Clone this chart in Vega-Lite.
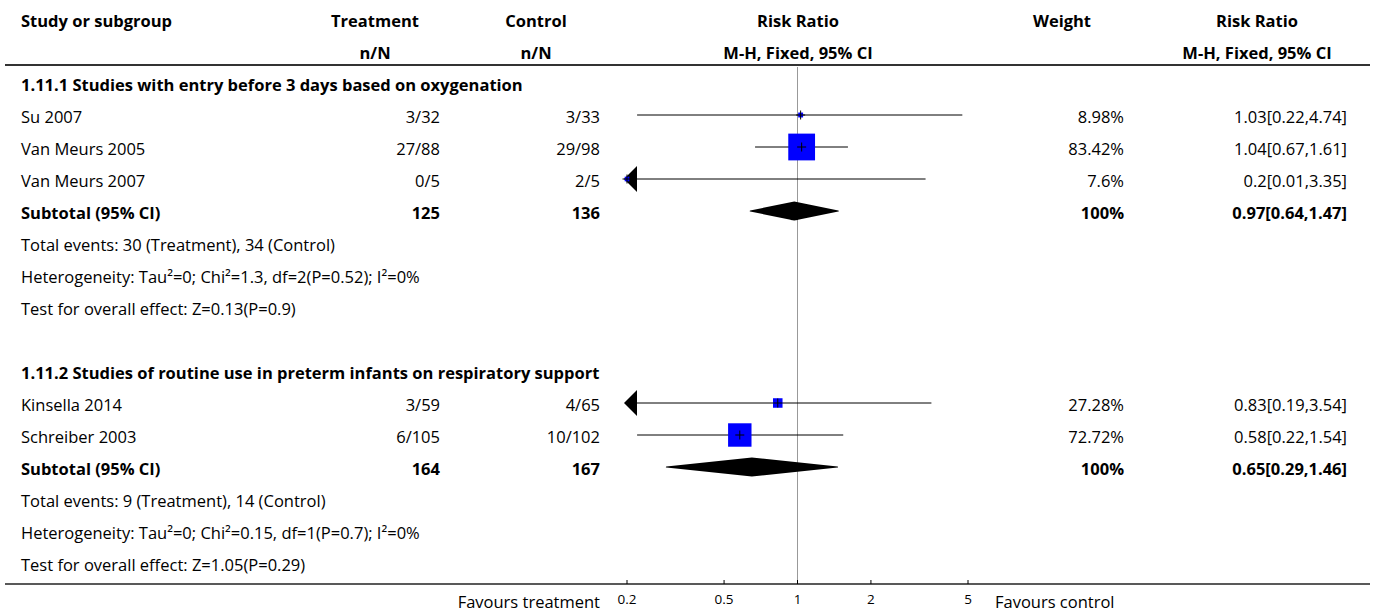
{
  "$schema": "https://vega.github.io/schema/vega-lite/v6.json",
  "width": 1375,
  "height": 613,
  "padding": 0,
  "autosize": "none",
  "background": "white",
  "config": {
    "view": {"stroke": null},
    "font": "Open Sans",
    "text": {"font": "Open Sans", "fontSize": 16.5, "color": "#000"}
  },
  "datasets": {
    "headers": [
      {"row": 0, "column": "study", "text": "Study or subgroup"},
      {"row": 0, "column": "treatment", "text": "Treatment"},
      {"row": 1, "column": "treatment", "text": "n/N"},
      {"row": 0, "column": "control", "text": "Control"},
      {"row": 1, "column": "control", "text": "n/N"},
      {"row": 0, "column": "plot", "text": "Risk Ratio"},
      {"row": 1, "column": "plot", "text": "M-H, Fixed, 95% CI"},
      {"row": 0, "column": "weight", "text": "Weight"},
      {"row": 0, "column": "result", "text": "Risk Ratio"},
      {"row": 1, "column": "result", "text": "M-H, Fixed, 95% CI"}
    ],
    "ticks": [
      {"value": 0.2, "label": "0.2"},
      {"value": 0.5, "label": "0.5"},
      {"value": 1, "label": "1"},
      {"value": 2, "label": "2"},
      {"value": 5, "label": "5"}
    ],
    "table": [
      {"row": 2, "kind": "group", "label": "1.11.1 Studies with entry before 3 days based on oxygenation"},
      {"row": 3, "kind": "study", "label": "Su 2007", "treatment": "3/32", "control": "3/33", "weight": 8.98, "weight_label": "8.98%", "rr": 1.03, "lo": 0.22, "hi": 4.74, "rr_label": "1.03[0.22,4.74]"},
      {"row": 4, "kind": "study", "label": "Van Meurs 2005", "treatment": "27/88", "control": "29/98", "weight": 83.42, "weight_label": "83.42%", "rr": 1.04, "lo": 0.67, "hi": 1.61, "rr_label": "1.04[0.67,1.61]"},
      {"row": 5, "kind": "study", "label": "Van Meurs 2007", "treatment": "0/5", "control": "2/5", "weight": 7.6, "weight_label": "7.6%", "rr": 0.2, "lo": 0.01, "hi": 3.35, "rr_label": "0.2[0.01,3.35]"},
      {"row": 6, "kind": "subtotal", "label": "Subtotal (95% CI)", "treatment": "125", "control": "136", "weight": 100, "weight_label": "100%", "rr": 0.97, "lo": 0.64, "hi": 1.47, "rr_label": "0.97[0.64,1.47]"},
      {"row": 7, "kind": "note", "label": "Total events: 30 (Treatment), 34 (Control)"},
      {"row": 8, "kind": "note", "label": "Heterogeneity: Tau²=0; Chi²=1.3, df=2(P=0.52); I²=0%"},
      {"row": 9, "kind": "note", "label": "Test for overall effect: Z=0.13(P=0.9)"},
      {"row": 11, "kind": "group", "label": "1.11.2 Studies of routine use in preterm infants on respiratory support"},
      {"row": 12, "kind": "study", "label": "Kinsella 2014", "treatment": "3/59", "control": "4/65", "weight": 27.28, "weight_label": "27.28%", "rr": 0.83, "lo": 0.19, "hi": 3.54, "rr_label": "0.83[0.19,3.54]"},
      {"row": 13, "kind": "study", "label": "Schreiber 2003", "treatment": "6/105", "control": "10/102", "weight": 72.72, "weight_label": "72.72%", "rr": 0.58, "lo": 0.22, "hi": 1.54, "rr_label": "0.58[0.22,1.54]"},
      {"row": 14, "kind": "subtotal", "label": "Subtotal (95% CI)", "treatment": "164", "control": "167", "weight": 100, "weight_label": "100%", "rr": 0.65, "lo": 0.29, "hi": 1.46, "rr_label": "0.65[0.29,1.46]"},
      {"row": 15, "kind": "note", "label": "Total events: 9 (Treatment), 14 (Control)"},
      {"row": 16, "kind": "note", "label": "Heterogeneity: Tau²=0; Chi²=0.15, df=1(P=0.7); I²=0%"},
      {"row": 17, "kind": "note", "label": "Test for overall effect: Z=1.05(P=0.29)"}
    ]
  },
  "layer": [
    {
      "layer": [
        {
          "data": {"values": [{}]},
          "mark": {"type": "rule", "stroke": "#333", "strokeWidth": 2},
          "encoding": {
            "x": {"datum": 5, "type": "quantitative", "scale": {"domain": [0, 1375], "range": [0, 1375], "nice": false, "zero": false}, "axis": null},
            "x2": {"datum": 1370},
            "y": {"datum": 1.4375, "type": "quantitative", "scale": {"domain": [-0.59375, 18.5625], "range": [0, 613], "nice": false, "zero": false}, "axis": null}
          }
        },
        {
          "data": {"values": [{}]},
          "mark": {"type": "rule", "stroke": "#222", "strokeWidth": 1.5},
          "encoding": {
            "x": {"datum": 5, "type": "quantitative", "axis": null},
            "x2": {"datum": 1370},
            "y": {"datum": 17.65625, "type": "quantitative", "axis": null}
          }
        },
        {
          "data": {"name": "headers"},
          "transform": [{"filter": "datum.column === 'study'"}],
          "mark": {"type": "text", "align": "left", "baseline": "middle", "dy": 3, "fontWeight": "bold"},
          "encoding": {
            "x": {"datum": 21, "type": "quantitative", "axis": null},
            "y": {"field": "row", "type": "quantitative", "axis": null},
            "text": {"field": "text", "type": "nominal"}
          }
        },
        {
          "data": {"name": "headers"},
          "transform": [{"filter": "datum.column === 'treatment'"}],
          "mark": {"type": "text", "align": "center", "baseline": "middle", "dy": 3, "fontWeight": "bold"},
          "encoding": {
            "x": {"datum": 375, "type": "quantitative", "axis": null},
            "y": {"field": "row", "type": "quantitative", "axis": null},
            "text": {"field": "text", "type": "nominal"}
          }
        },
        {
          "data": {"name": "headers"},
          "transform": [{"filter": "datum.column === 'control'"}],
          "mark": {"type": "text", "align": "center", "baseline": "middle", "dy": 3, "fontWeight": "bold"},
          "encoding": {
            "x": {"datum": 536, "type": "quantitative", "axis": null},
            "y": {"field": "row", "type": "quantitative", "axis": null},
            "text": {"field": "text", "type": "nominal"}
          }
        },
        {
          "data": {"name": "headers"},
          "transform": [{"filter": "datum.column === 'plot'"}],
          "mark": {"type": "text", "align": "center", "baseline": "middle", "dy": 3, "fontWeight": "bold"},
          "encoding": {
            "x": {"datum": 798, "type": "quantitative", "axis": null},
            "y": {"field": "row", "type": "quantitative", "axis": null},
            "text": {"field": "text", "type": "nominal"}
          }
        },
        {
          "data": {"name": "headers"},
          "transform": [{"filter": "datum.column === 'weight'"}],
          "mark": {"type": "text", "align": "center", "baseline": "middle", "dy": 3, "fontWeight": "bold"},
          "encoding": {
            "x": {"datum": 1062, "type": "quantitative", "axis": null},
            "y": {"field": "row", "type": "quantitative", "axis": null},
            "text": {"field": "text", "type": "nominal"}
          }
        },
        {
          "data": {"name": "headers"},
          "transform": [{"filter": "datum.column === 'result'"}],
          "mark": {"type": "text", "align": "center", "baseline": "middle", "dy": 3, "fontWeight": "bold"},
          "encoding": {
            "x": {"datum": 1257, "type": "quantitative", "axis": null},
            "y": {"field": "row", "type": "quantitative", "axis": null},
            "text": {"field": "text", "type": "nominal"}
          }
        },
        {
          "data": {"name": "table"},
          "transform": [{"filter": "datum.kind === 'study' || datum.kind === 'note'"}],
          "mark": {"type": "text", "align": "left", "baseline": "middle", "dy": 3},
          "encoding": {
            "x": {"datum": 21, "type": "quantitative", "axis": null},
            "y": {"field": "row", "type": "quantitative", "axis": null},
            "text": {"field": "label", "type": "nominal"}
          }
        },
        {
          "data": {"name": "table"},
          "transform": [{"filter": "datum.kind === 'group' || datum.kind === 'subtotal'"}],
          "mark": {"type": "text", "align": "left", "baseline": "middle", "dy": 3, "fontWeight": "bold"},
          "encoding": {
            "x": {"datum": 21, "type": "quantitative", "axis": null},
            "y": {"field": "row", "type": "quantitative", "axis": null},
            "text": {"field": "label", "type": "nominal"}
          }
        },
        {
          "data": {"name": "table"},
          "transform": [{"filter": "datum.kind === 'study'"}],
          "mark": {"type": "text", "align": "right", "baseline": "middle", "dy": 3},
          "encoding": {
            "x": {"datum": 440, "type": "quantitative", "axis": null},
            "y": {"field": "row", "type": "quantitative", "axis": null},
            "text": {"field": "treatment", "type": "nominal"}
          }
        },
        {
          "data": {"name": "table"},
          "transform": [{"filter": "datum.kind === 'subtotal'"}],
          "mark": {"type": "text", "align": "right", "baseline": "middle", "dy": 3, "fontWeight": "bold"},
          "encoding": {
            "x": {"datum": 440, "type": "quantitative", "axis": null},
            "y": {"field": "row", "type": "quantitative", "axis": null},
            "text": {"field": "treatment", "type": "nominal"}
          }
        },
        {
          "data": {"name": "table"},
          "transform": [{"filter": "datum.kind === 'study'"}],
          "mark": {"type": "text", "align": "right", "baseline": "middle", "dy": 3},
          "encoding": {
            "x": {"datum": 600, "type": "quantitative", "axis": null},
            "y": {"field": "row", "type": "quantitative", "axis": null},
            "text": {"field": "control", "type": "nominal"}
          }
        },
        {
          "data": {"name": "table"},
          "transform": [{"filter": "datum.kind === 'subtotal'"}],
          "mark": {"type": "text", "align": "right", "baseline": "middle", "dy": 3, "fontWeight": "bold"},
          "encoding": {
            "x": {"datum": 600, "type": "quantitative", "axis": null},
            "y": {"field": "row", "type": "quantitative", "axis": null},
            "text": {"field": "control", "type": "nominal"}
          }
        },
        {
          "data": {"name": "table"},
          "transform": [{"filter": "datum.kind === 'study'"}],
          "mark": {"type": "text", "align": "right", "baseline": "middle", "dy": 3},
          "encoding": {
            "x": {"datum": 1124, "type": "quantitative", "axis": null},
            "y": {"field": "row", "type": "quantitative", "axis": null},
            "text": {"field": "weight_label", "type": "nominal"}
          }
        },
        {
          "data": {"name": "table"},
          "transform": [{"filter": "datum.kind === 'subtotal'"}],
          "mark": {"type": "text", "align": "right", "baseline": "middle", "dy": 3, "fontWeight": "bold"},
          "encoding": {
            "x": {"datum": 1124, "type": "quantitative", "axis": null},
            "y": {"field": "row", "type": "quantitative", "axis": null},
            "text": {"field": "weight_label", "type": "nominal"}
          }
        },
        {
          "data": {"name": "table"},
          "transform": [{"filter": "datum.kind === 'study'"}],
          "mark": {"type": "text", "align": "right", "baseline": "middle", "dy": 3},
          "encoding": {
            "x": {"datum": 1347, "type": "quantitative", "axis": null},
            "y": {"field": "row", "type": "quantitative", "axis": null},
            "text": {"field": "rr_label", "type": "nominal"}
          }
        },
        {
          "data": {"name": "table"},
          "transform": [{"filter": "datum.kind === 'subtotal'"}],
          "mark": {"type": "text", "align": "right", "baseline": "middle", "dy": 3, "fontWeight": "bold"},
          "encoding": {
            "x": {"datum": 1347, "type": "quantitative", "axis": null},
            "y": {"field": "row", "type": "quantitative", "axis": null},
            "text": {"field": "rr_label", "type": "nominal"}
          }
        },
        {
          "data": {"values": [{}]},
          "mark": {"type": "text", "align": "right", "baseline": "middle", "dy": 3},
          "encoding": {
            "x": {"datum": 600, "type": "quantitative", "axis": null},
            "y": {"datum": 18.15625, "type": "quantitative", "axis": null},
            "text": {"value": "Favours treatment"}
          }
        },
        {
          "data": {"values": [{}]},
          "mark": {"type": "text", "align": "left", "baseline": "middle", "dy": 3},
          "encoding": {
            "x": {"datum": 995, "type": "quantitative", "axis": null},
            "y": {"datum": 18.15625, "type": "quantitative", "axis": null},
            "text": {"value": "Favours control"}
          }
        }
      ]
    },
    {
      "layer": [
        {
          "data": {"values": [{}]},
          "mark": {"type": "rule", "stroke": "#999", "strokeWidth": 1},
          "encoding": {
            "x": {
              "datum": 1, "type": "quantitative",
              "scale": {"type": "log", "domain": [0.2, 5], "range": [627, 968], "clamp": true, "nice": false},
              "axis": null
            },
            "y": {"datum": 1.5, "type": "quantitative", "axis": null},
            "y2": {"datum": 17.65625}
          }
        },
        {
          "data": {"name": "ticks"},
          "mark": {"type": "rule", "stroke": "#000", "strokeWidth": 1},
          "encoding": {
            "x": {"field": "value", "type": "quantitative", "axis": null},
            "y": {"datum": 17.53125, "type": "quantitative", "axis": null},
            "y2": {"datum": 17.65625}
          }
        },
        {
          "data": {"name": "ticks"},
          "mark": {"type": "text", "align": "center", "baseline": "middle", "dy": 2, "fontSize": 13.5},
          "encoding": {
            "x": {"field": "value", "type": "quantitative", "axis": null},
            "y": {"datum": 18.09375, "type": "quantitative", "axis": null},
            "text": {"field": "label", "type": "nominal"}
          }
        },
        {
          "data": {"name": "table"},
          "transform": [{"filter": "datum.kind === 'study'"}],
          "mark": {"type": "rule", "stroke": "#000", "strokeWidth": 1},
          "encoding": {
            "x": {"field": "lo", "type": "quantitative", "axis": null},
            "x2": {"field": "hi"},
            "y": {"field": "row", "type": "quantitative", "axis": null}
          }
        },
        {
          "data": {"name": "table"},
          "transform": [{"filter": "datum.kind === 'study' && datum.lo < 0.2"}],
          "mark": {"type": "point", "shape": "M0.77,-1L-0.23,0L0.77,1Z", "size": 676, "filled": true, "fill": "#000", "strokeWidth": 0, "opacity": 1},
          "encoding": {
            "x": {"datum": 0.2, "type": "quantitative", "axis": null},
            "y": {"field": "row", "type": "quantitative", "axis": null}
          }
        },
        {
          "data": {"name": "table"},
          "transform": [{"filter": "datum.kind === 'study'"}],
          "mark": {"type": "point", "shape": "square", "filled": true, "fill": "#0000ff", "strokeWidth": 0, "opacity": 1},
          "encoding": {
            "x": {"field": "rr", "type": "quantitative", "axis": null},
            "y": {"field": "row", "type": "quantitative", "axis": null},
            "size": {"field": "weight", "type": "quantitative", "scale": {"type": "pow", "exponent": 2, "domain": [0, 100], "range": [16, 1024]}, "legend": null}
          }
        },
        {
          "data": {"name": "table"},
          "transform": [{"filter": "datum.kind === 'study'"}],
          "mark": {"type": "point", "shape": "M-1,0L1,0M0,-1L0,1", "size": 81, "filled": false, "stroke": "#000", "strokeWidth": 1, "opacity": 1},
          "encoding": {
            "x": {"field": "rr", "type": "quantitative", "axis": null},
            "y": {"field": "row", "type": "quantitative", "axis": null}
          }
        },
        {
          "data": {"name": "table"},
          "transform": [
            {"filter": "datum.kind === 'subtotal'"},
            {"fold": ["lo", "rr", "hi"], "as": ["point", "value"]}
          ],
          "mark": {"type": "trail", "color": "#000", "opacity": 1},
          "encoding": {
            "x": {"field": "value", "type": "quantitative", "axis": null},
            "y": {"field": "row", "type": "quantitative", "axis": null},
            "detail": {"field": "row", "type": "nominal"},
            "order": {"field": "value", "type": "quantitative"},
            "size": {"condition": {"test": "datum.point === 'rr'", "value": 19}, "value": 0}
          }
        }
      ]
    }
  ],
  "resolve": {"scale": {"x": "independent"}}
}
